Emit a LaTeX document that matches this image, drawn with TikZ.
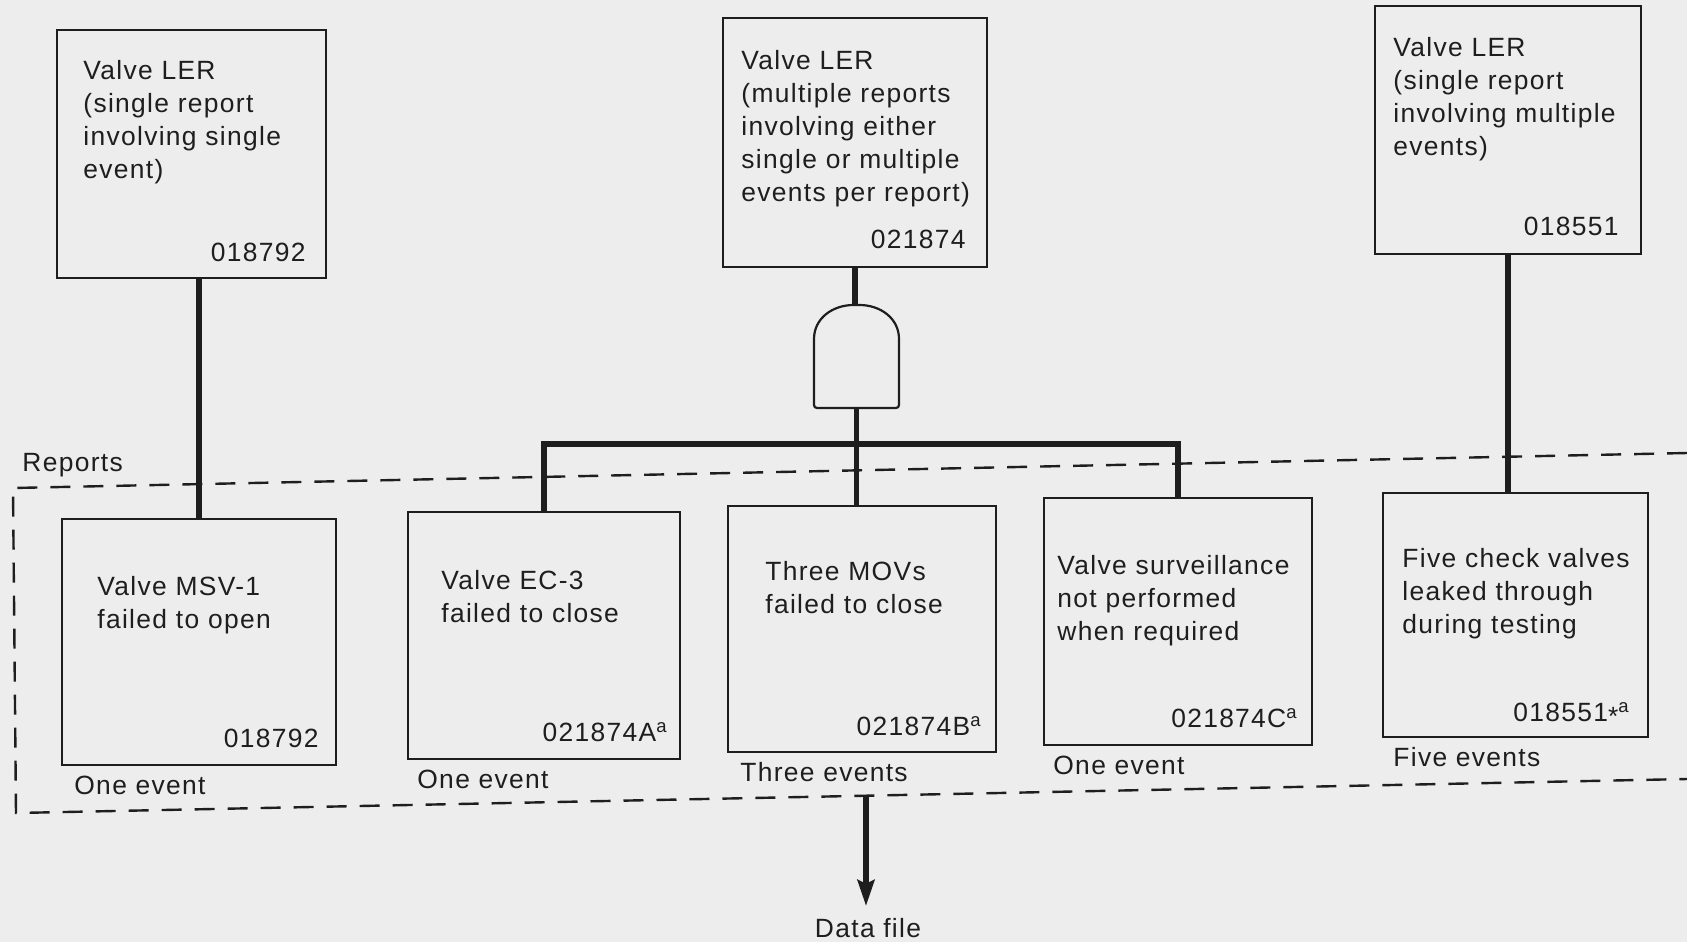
\documentclass[tikz,border=0pt]{standalone}
\usepackage{fontspec}
\setmainfont[LetterSpace=5]{Liberation Sans}
\usetikzlibrary{arrows.meta,fit}
\definecolor{bg}{RGB}{237,237,237}
\definecolor{ink}{RGB}{30,30,30}
\begin{document}
\begin{tikzpicture}[x=0.5pt,y=-0.5pt,
  box/.style={draw=ink,line width=1.4pt,inner sep=0pt},
  txt/.style={anchor=base west,inner sep=0pt,text width=130pt,align=left,text=ink,
    font=\fontsize{13.2}{16.5}\selectfont},
  num/.style={anchor=base east,inner sep=0pt,text=ink,font=\fontsize{13.2}{16.5}\selectfont},
  lbl/.style={anchor=base west,inner sep=0pt,text=ink,font=\fontsize{13.2}{16.5}\selectfont},
  conn/.style={draw=ink,line width=2.6pt},
  dashbox/.style={draw=ink,line width=1.2pt,dash pattern=on 10pt off 6.5pt}]
\fill[bg] (0,0) rectangle (1687,942);
\useasboundingbox (0,0) rectangle (1687,942);
% top report boxes
\node[box,fit={(57,30) (326,278)}] (b1) {};
\node[box,fit={(723,18) (987,267)}] (b2) {};
\node[box,fit={(1375,6) (1641,254)}] (b3) {};
% event boxes
\node[box,fit={(62,519) (336,765)}] (b4) {};
\node[box,fit={(408,512) (680,759)}] (b5) {};
\node[box,fit={(728,506) (996,752)}] (b6) {};
\node[box,fit={(1044,498) (1312,745)}] (b7) {};
\node[box,fit={(1383,493) (1648,737)}] (b8) {};
% texts
\node[txt] (t1) at (83,79) {Valve LER\\(single report\\involving single\\event)};
\node[num] (n1) at (306,261) {018792};
\node[txt] (t2) at (741,69) {Valve LER\\(multiple reports\\involving either\\single or multiple\\events per report)};
\node[num] (n2) at (966,248) {021874};
\node[txt] (t3) at (1393,56) {Valve LER\\(single report\\involving multiple\\events)};
\node[num] (n3) at (1619,235) {018551};
\node[txt] (t4) at (97,595) {Valve MSV-1\\failed to open};
\node[num] (n4) at (319,747) {018792};
\node[lbl] (e4) at (74,794) {One event};
\node[txt] (t5) at (441,589) {Valve EC-3\\failed to close};
\node[num] (n5) at (668,741) {021874A\textsuperscript{a}};
\node[lbl] (e5) at (417,788) {One event};
\node[txt] (t6) at (765,580) {Three MOVs\\failed to close};
\node[num] (n6) at (982,735) {021874B\textsuperscript{a}};
\node[lbl] (e6) at (740,781) {Three events};
\node[txt] (t7) at (1057,574) {Valve surveillance\\not performed\\when required};
\node[num] (n7) at (1298,727) {021874C\textsuperscript{a}};
\node[lbl] (e7) at (1053,774) {One event};
\node[txt] (t8) at (1402,567) {Five check valves\\leaked through\\during testing};
\node[num] (n8) at (1630,721) {018551\raisebox{-0.35ex}{*}\textsuperscript{a}};
\node[lbl] (e8) at (1393,766) {Five events};
\node[lbl] (rep) at (22,471) {Reports};
\node[anchor=base,inner sep=0pt,outer sep=6pt,text=ink,font=\fontsize{13.2}{16.5}\selectfont] (df) at (868,937) {Data file};
% dashed reports frame
\draw[dashbox] (1687,453) -- (13,488) -- (16,813) -- (1687,779);
% AND gate
\draw[draw=ink,line width=1.1pt,fill=bg,rounded corners=1.5pt]
  (814,408) -- (814,342) .. controls (814,318) and (833,305) .. (856.5,305)
  .. controls (880,305) and (899,318) .. (899,342) -- (899,408) -- cycle;
\coordinate (gtop) at (856.5,305);
\coordinate (gbot) at (856.5,408);
\coordinate (bar) at (856.5,444);
\coordinate (dfs) at (866,796);
% connectors
\draw[conn] (b4.north) -- (b4.north |- b1.south);
\draw[conn] (b2.south) -- (b2.south |- gtop);
\draw[conn] (gbot) -- (gbot |- b6.north);
\draw[conn] (b5.north) |- (bar) -| (b7.north);
\draw[conn] (b3.south) -- (b3.south |- b8.north);
\draw[conn,-{Stealth[length=13pt,width=8.5pt,inset=2pt]}] (dfs) -- (dfs |- df.north);
\end{tikzpicture}
\end{document}
